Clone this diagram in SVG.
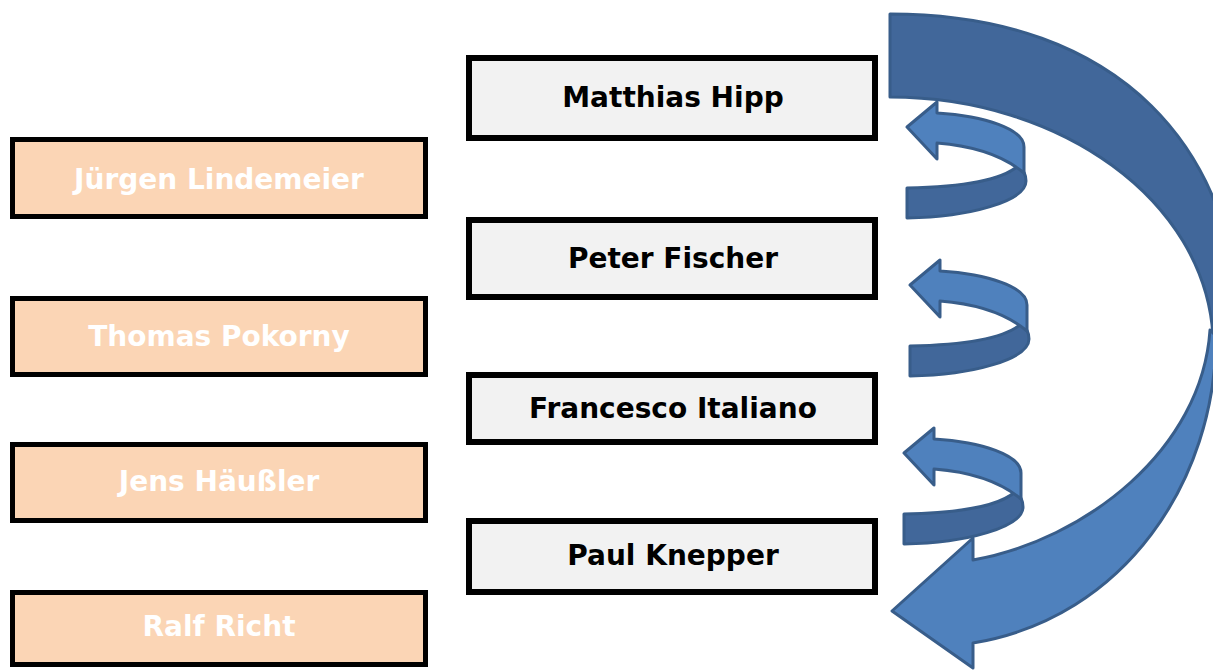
<svg xmlns="http://www.w3.org/2000/svg" width="1213" height="671" viewBox="0 0 1213 671">
<style>
.lb{fill:#FBD5B5;stroke:#000;stroke-width:5}
.rb{fill:#F2F2F2;stroke:#000;stroke-width:6}
.lt{font-family:"DejaVu Sans",Verdana,sans-serif;font-weight:bold;font-size:28px;fill:#FFFFFF;text-anchor:middle}
.rt{font-family:"DejaVu Sans",Verdana,sans-serif;font-weight:bold;font-size:28px;fill:#000000;text-anchor:middle}
.dk{fill:#41679A;stroke:#385D8A;stroke-width:3;stroke-linejoin:round}
.lg{fill:#4F81BD;stroke:#385D8A;stroke-width:3;stroke-linejoin:round}
</style>
<defs>
<g id="small">
<path class="dk" d="M907,188 C965,187 1003,179 1018,166 C1024,170 1026,175 1026,181 C1026,201 970,217 907,218 Z"/>
<path class="lg" d="M907,127 L937,102 L937,113 C985,116 1024,129 1024,147 L1024,173 C1005,157 975,146 937,143 L937,159 Z"/>
</g>
</defs>
<g id="connectors">
<path class="dk" d="M890,14 C1120,14 1240,150 1240,340 L1213,336 C1205,200 1060,97 890,97 Z"/>
<path class="lg" d="M1210,330 L1216,336 C1216,480 1125,618 973,643 L973,668 L892,611 L973,538 L973,560 C1085,540 1202,450 1210,330 Z"/>
<use href="#small"/>
<use href="#small" transform="translate(3,158)"/>
<use href="#small" transform="translate(-3,326)"/>
</g>
<g id="n1"><rect class="lb" x="12.5" y="139.5" width="413" height="77"/><text class="lt" x="219" y="189">Jürgen Lindemeier</text></g>
<g id="n2"><rect class="lb" x="12.5" y="298.5" width="413" height="76"/><text class="lt" x="219" y="346">Thomas Pokorny</text></g>
<g id="n3"><rect class="lb" x="12.5" y="444.5" width="413" height="76"/><text class="lt" x="219" y="491">Jens Häußler</text></g>
<g id="n4"><rect class="lb" x="12.5" y="592.5" width="413" height="72"/><text class="lt" x="219" y="636">Ralf Richt</text></g>
<g id="n5"><rect class="rb" x="469" y="58" width="406" height="80"/><text class="rt" x="673" y="107">Matthias Hipp</text></g>
<g id="n6"><rect class="rb" x="469" y="220" width="406" height="77"/><text class="rt" x="673" y="268">Peter Fischer</text></g>
<g id="n7"><rect class="rb" x="469" y="375" width="406" height="67"/><text class="rt" x="673" y="418">Francesco Italiano</text></g>
<g id="n8"><rect class="rb" x="469" y="521" width="406" height="71"/><text class="rt" x="673" y="565">Paul Knepper</text></g>
</svg>
